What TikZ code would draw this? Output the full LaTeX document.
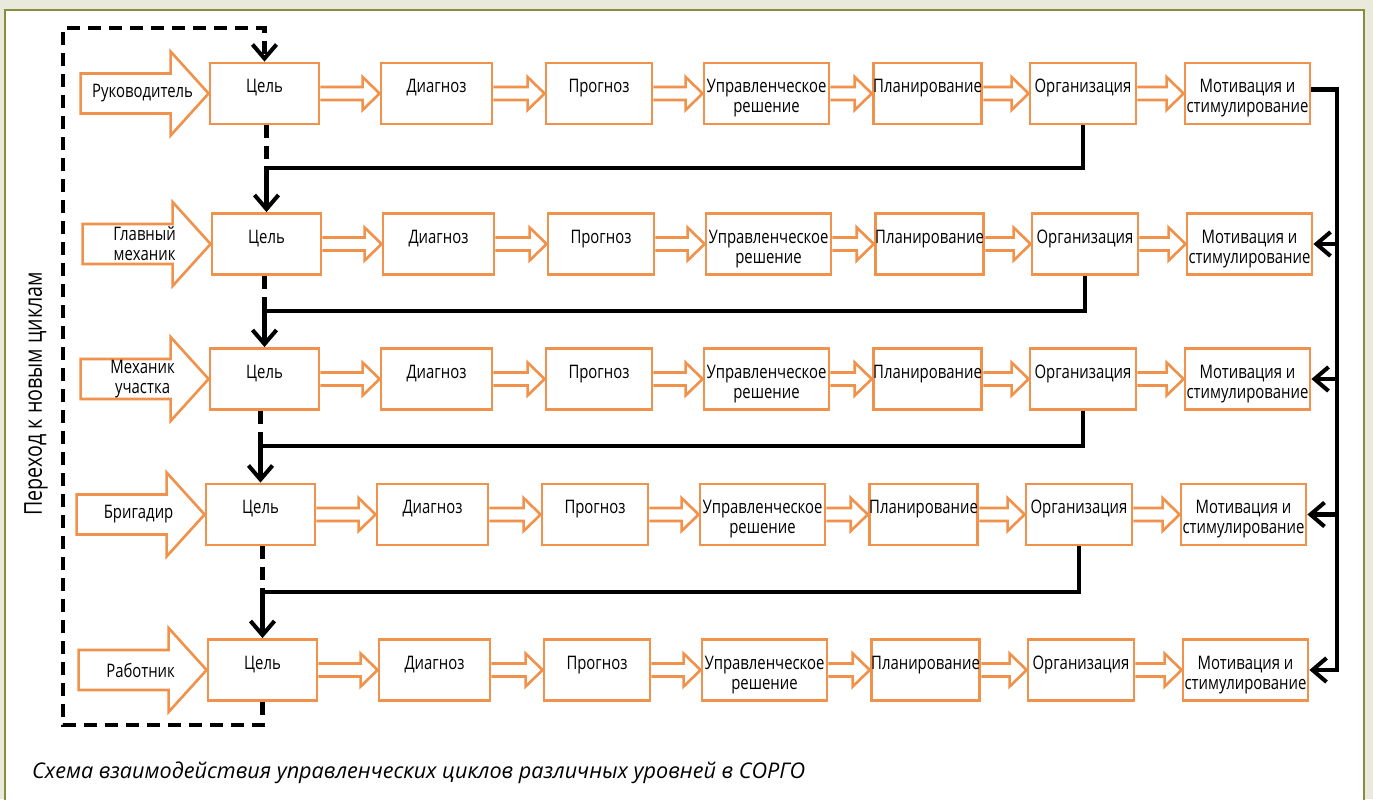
\documentclass[tikz,border=0pt]{standalone}
\usepackage{fontspec}
\setmainfont{Open Sans}[FakeStretch=0.8]
\newfontfamily\capfont{Open Sans}
\usetikzlibrary{arrows.meta,calc}
\definecolor{boxorange}{HTML}{F0924B}
\definecolor{pagebg}{HTML}{E9E9DC}
\definecolor{olive}{HTML}{8C8C3E}
\newcommand\twoline[2]{\begin{tabular}[t]{@{}c@{}}#1\\#2\end{tabular}}
\begin{document}
\begin{tikzpicture}[x=0.02cm, y=-0.02cm, every node/.style={font=\fontsize{10.6}{11.4}\selectfont},
  box/.style={draw=boxorange,line width=1.6pt,minimum height=1.22cm,align=center,inner sep=0pt,text height=0.3cm,text depth=0.334cm},
  who/.style={align=center,inner sep=0pt},
  hollow/.style={draw=boxorange,line width=1.5pt,line join=miter},
  link/.style={line width=2.3pt,-{Straight Barb[length=2.8mm,width=4.8mm]}},
  loop/.style={line width=2.3pt,dash pattern=on 2.6mm off 1.6mm}]
\useasboundingbox (0,0) rectangle (1373,799);
\clip (0,0) rectangle (1373,799);
\fill[pagebg] (0,0) rectangle (1373,799);
\draw[olive,line width=1.6pt,fill=white] (5,10) rectangle (1364,830);
% five levels of the cycle
\foreach \r/\dx/\cy/\who in {1/0/93.5/Руководитель, 2/2/244/{Главный\\механик}, 3/0/379/{Механик\\участка}, 4/-4/514.5/Бригадир, 5/-2/670/Работник}{
  \foreach \c/\cx/\w/\txt in {1/264.5/109/Цель, 2/436.5/111/Диагноз, 3/599/106/Прогноз, 4/766.5/125/{\twoline{Управленческое}{решение}}, 5/927.5/107/Планирование, 6/1083/106/Организация, 7/1247.5/125/{\twoline{Мотивация и}{стимулирование}}}
    \node[box,minimum width={\w*0.02cm}] (b\r-\c) at (\cx+\dx,\cy) {\txt};
  \foreach \c [evaluate=\c as \n using int(\c+1)] in {1,...,6}
    \draw[hollow] ($(b\r-\c.east)+(0,-6.5)$) -- ($(b\r-\n.west)+(-17,-6.5)$) -- ++(0,-10) -- (b\r-\n.west)
      -- ($(b\r-\n.west)+(-17,16.5)$) -- ++(0,-10) -- ($(b\r-\c.east)+(0,6.5)$);
  \draw[hollow] ($(b\r-1.west)+(-128,-20)$) -- ++(90,0) -- ++(0,-22) -- (b\r-1.west)
    -- ($(b\r-1.west)+(-38,42)$) -- ++(0,-22) -- ++(-90,0) -- cycle;
  \node[who] (w\r) at ($(b\r-1.west)+(-66,0)$) {\who};
}
% passing down from level to level
\foreach \r/\ly in {1/168, 2/311, 3/446, 4/592}{
  \pgfmathtruncatemacro\s{\r+1}
  \coordinate (j\r) at (0,\ly);
  \draw[loop] (b\s-1.north |- b\r-1.south) -- (b\s-1.north |- j\r);
  \draw[link] (b\r-6.south) -- (b\r-6.south |- j\r) -| (b\s-1.north);
}
% new cycle
\coordinate (lb) at (63,725); \coordinate (lt) at (63,28);
\draw[loop,-{Straight Barb[length=2.8mm,width=4.8mm]}] (b5-1.south) -- (b5-1.south |- lb) -- (lb) -- (lt) -- (lt -| b1-1.north) -- (b1-1.north);
\node[rotate=90,font=\fontsize{14}{16}\selectfont] (newcycle) at (36,394) {Переход к новым циклам};
% feedback of motivation
\coordinate (rb) at (1337,0);
\draw[link,line join=miter] ($(b1-7.east)+(0,-4)$) -| (rb |- b5-7.east) -- (b5-7.east);
\foreach \r in {2,3,4}
  \draw[link] (rb |- b\r-7.east) -- (b\r-7.east);
\node[anchor=west,font=\capfont\itshape\fontsize{12.3}{14}\selectfont] (caption) at (26,773) {Схема взаимодействия управленческих циклов различных уровней в СОРГО};
\end{tikzpicture}
\end{document}
